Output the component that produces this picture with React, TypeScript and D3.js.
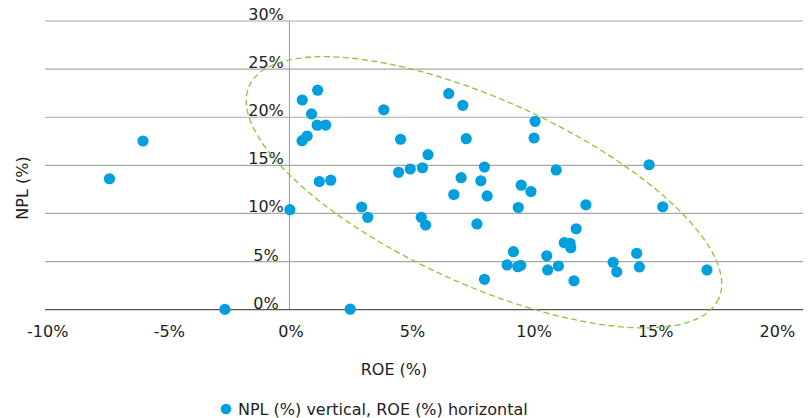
import React from "react";
import * as d3 from "d3";

const roe: number[] = [
  -6.02, -7.40, 0.53, 1.16, 0.91, 1.14, 1.49, 0.73, 0.52, 1.23,
  1.70, 3.88, 4.57, 4.49, 4.97, 5.47, 5.70, 2.97, 3.22, 0.02,
  2.50, -2.65, 6.55, 7.13, 7.27, 7.06, 6.76, 7.87, 8.02, 8.13,
  9.53, 9.93, 10.97, 10.10, 10.06, 14.79, 9.41, 12.19, 15.35, 5.42,
  5.60, 7.71, 11.79, 9.21, 8.95, 9.39, 9.51, 8.02, 10.58, 10.62,
  11.06, 11.30, 11.54, 11.57, 11.70, 13.31, 13.46, 14.28, 14.39, 17.17,
];
const npl: number[] = [
  17.53, 13.61, 21.79, 22.81, 20.34, 19.17, 19.19, 18.05, 17.56, 13.32,
  13.46, 20.77, 17.71, 14.28, 14.62, 14.75, 16.11, 10.67, 9.60, 10.39,
  0.05, 0.03, 22.45, 21.24, 17.77, 13.72, 11.97, 13.40, 14.83, 11.82,
  12.94, 12.28, 14.52, 19.58, 17.84, 15.06, 10.62, 10.90, 10.70, 9.60,
  8.80, 8.91, 8.41, 6.03, 4.65, 4.47, 4.61, 3.16, 5.60, 4.13,
  4.54, 6.96, 6.90, 6.44, 3.01, 4.93, 3.94, 5.86, 4.44, 4.13,
];
const xTicks: number[] = [-10, -5, 0, 5, 10, 15, 20];
const yTicks: number[] = [0, 5, 10, 15, 20, 25, 30];
const xTitle = "ROE (%)";
const yTitle = "NPL (%)";
const legendLabel = "NPL (%) vertical, ROE (%) horizontal";
// highlighted cluster ellipse centre (data units)
const ellipseCenter: [number, number] = [8.0, 12.2];

const FONT = "'DejaVu Sans', sans-serif";

export default function App() {
  const W = 811;
  const H = 418;
  const x = d3.scaleLinear().domain([-10.05, 21.13]).range([45, 803.3]);
  const y = d3.scaleLinear().domain([0, 30]).range([309.7, 21]);
  const x0 = x(0);

  const ecx = x(ellipseCenter[0]);
  const ecy = y(ellipseCenter[1]);

  return (
    <svg
      width={W}
      height={H}
      style={{ position: "absolute", left: 0, top: 0, background: "#fff" }}
      fontFamily={FONT}
    >
      {/* horizontal gridlines */}
      {yTicks.filter((t) => t !== 0).map((t) => (
        <line key={"g" + t} x1={45} x2={803.3} y1={y(t)} y2={y(t)} stroke="#a8a8a8" strokeWidth={1.2} />
      ))}
      {/* vertical axis line */}
      <line x1={x0} x2={x0} y1={y(30)} y2={y(0)} stroke="#9a9a9a" strokeWidth={1} />
      {/* baseline */}
      <line x1={45} x2={803.3} y1={y(0)} y2={y(0)} stroke="#555" strokeWidth={1.2} />

      {/* y tick labels */}
      {yTicks.map((t) => (
        <text key={"yl" + t} x={266} y={y(t) - 1} textAnchor="middle" fontSize={16} fill="#222">
          {t + "%"}
        </text>
      ))}
      {/* x tick labels */}
      {xTicks.map((t) => (
        <text key={"xl" + t} x={x(t) + 1.5} y={337} textAnchor="middle" fontSize={16} fill="#222">
          {t + "%"}
        </text>
      ))}

      {/* points */}
      {roe.map((v, i) => (
        <circle key={"p" + i} cx={x(v)} cy={y(npl[i])} r={5.6} fill="#00a0de" />
      ))}

      {/* ellipse */}
      <ellipse
        cx={ecx}
        cy={ecy}
        rx={257.7}
        ry={92.3}
        transform={`rotate(24.4 ${ecx} ${ecy})`}
        fill="none"
        stroke="#8cc43c"
        strokeWidth={1.3}
        strokeDasharray="6 3.5"
      />

      {/* axis titles */}
      <text x={394} y={375} textAnchor="middle" fontSize={16} fill="#222">{xTitle}</text>
      <text
        transform={`translate(28, 188) rotate(-90)`}
        textAnchor="middle"
        fontSize={16}
        fill="#222"
      >
        {yTitle}
      </text>

      {/* legend */}
      <circle cx={226} cy={409} r={5.3} fill="#00a0de" />
      <text x={238} y={415} fontSize={16} fill="#222">{legendLabel}</text>
    </svg>
  );
}
